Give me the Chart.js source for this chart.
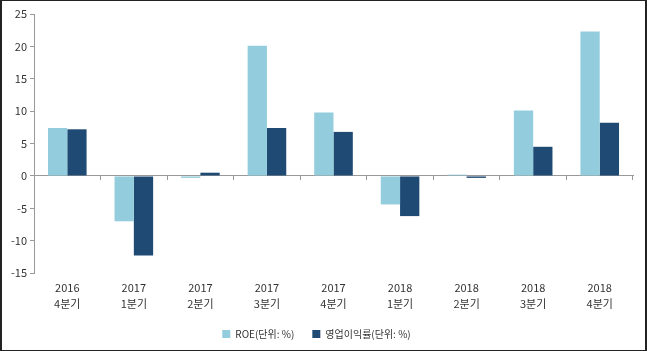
<!DOCTYPE html>
<html><head><meta charset="utf-8">
<script src="https://cdn.jsdelivr.net/npm/chart.js@4/dist/chart.umd.min.js"></script>
<style>
html,body{margin:0;padding:0;background:#fff;}
#wrap{position:relative;width:647px;height:351px;}
#frame{position:absolute;left:0;top:0;width:647px;height:351px;box-sizing:border-box;border:1px solid #222;border-left-width:2px;border-right-width:2px;pointer-events:none;}
canvas{position:absolute;left:0;top:0;}
</style></head>
<body>
<div id="wrap"><canvas id="c" width="647" height="351"></canvas><div id="frame"></div></div>
<script>
const categories = [['2016','4분기'],['2017','1분기'],['2017','2분기'],['2017','3분기'],['2017','4분기'],['2018','1분기'],['2018','2분기'],['2018','3분기'],['2018','4분기']];
const roe = [7.4, -7.0, -0.3, 20.1, 9.8, -4.4, 0.2, 10.1, 22.3];
const opMargin = [7.2, -12.3, 0.5, 7.4, 6.8, -6.2, -0.3, 4.5, 8.2];
const seriesNames = ['ROE(단위: %)', '영업이익률(단위: %)'];
const yTicks = {min: -15, max: 25, step: 5};

const font = "'Noto Sans CJK KR', 'Noto Sans', sans-serif";
new Chart(document.getElementById('c'), {
  type: 'bar',
  data: {
    labels: categories,
    datasets: [
      {label: seriesNames[0], data: roe, backgroundColor: '#93CDDD', borderWidth: 0, xAxisID: 'x', yAxisID: 'y'},
      {label: seriesNames[1], data: opMargin, backgroundColor: '#1F4A74', borderWidth: 0, xAxisID: 'x', yAxisID: 'y'}
    ]
  },
  options: {
    responsive: false,
    animation: false,
    devicePixelRatio: 1,
    categoryPercentage: 0.58,
    barPercentage: 1.0,
    layout: {padding: {left: 0, right: 14, top: 14, bottom: 2}},
    plugins: {
      tooltip: {enabled: false},
      legend: {
        position: 'bottom',
        labels: {boxWidth: 8, boxHeight: 8, padding: 18, color: '#333', font: {family: font, size: 10}}
      }
    },
    scales: {
      x: {
        type: 'category',
        position: {y: 0},
        offset: true,
        ticks: {display: false},
        grid: {display: true, drawOnChartArea: false, drawTicks: true, tickLength: 4, color: '#999', offset: true},
        border: {display: true, color: '#999', width: 1}
      },
      x2: {
        type: 'category',
        position: 'bottom',
        offset: true,
        grid: {display: false},
        border: {display: false},
        ticks: {color: '#333', padding: -1, maxRotation: 0, autoSkip: false, font: {family: font, size: 11, lineHeight: 1.45}}
      },
      y: {
        min: yTicks.min, max: yTicks.max,
        ticks: {stepSize: yTicks.step, color: '#333', padding: 3, font: {family: font, size: 11}},
        grid: {display: true, drawOnChartArea: false, drawTicks: true, tickLength: 4, color: '#999'},
        border: {display: true, color: '#999', width: 1},
        afterFit: s => { s.width = 34; }
      }
    }
  }
});
</script>
</body></html>
